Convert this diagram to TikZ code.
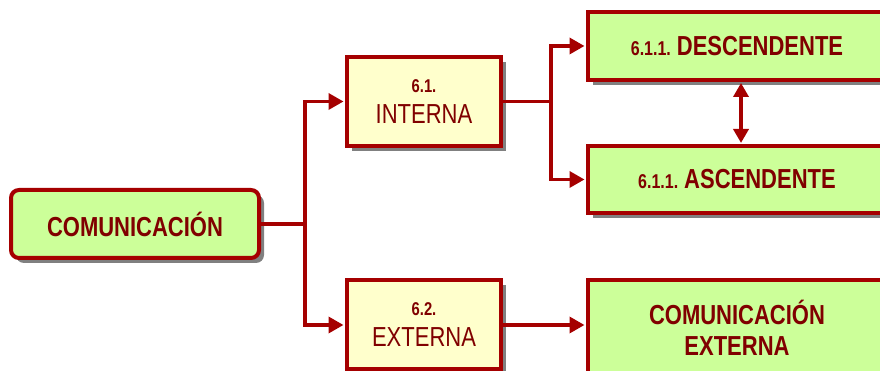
\documentclass[tikz,border=0pt]{standalone}
\usepackage{fontspec}
\setmainfont{Liberation Sans}[FakeStretch=0.8]
\usepackage{xcolor}
\usepackage{tikz}
\usetikzlibrary{arrows.meta,shadows}

\definecolor{boxred}{RGB}{165,0,0}
\definecolor{textred}{RGB}{128,0,0}
\definecolor{boxgreen}{HTML}{CCFF99}
\definecolor{boxyellow}{HTML}{FFFFCC}

\tikzset{
  box/.style={draw=boxred, line width=4pt, text=textred, align=center, inner sep=0pt,
    drop shadow={shadow xshift=5pt, shadow yshift=-5pt, fill=gray, opacity=1}},
  greenbox/.style={box, fill=boxgreen, font=\bfseries\fontsize{27.5}{31}\selectfont},
  yellowbox/.style={box, fill=boxyellow, font=\fontsize{27.5}{31}\selectfont,
    minimum width=154pt, minimum height=89pt},
  link/.style={line width=3.5pt, boxred, shorten >=1.5pt, -{Triangle[length=15pt,width=16pt]}},
  dlink/.style={line width=3.5pt, boxred, shorten >=1pt, shorten <=1pt,
    {Triangle[length=14pt,width=15pt]}-{Triangle[length=14pt,width=15pt]}},
}
\newcommand{\numsmall}[1]{{\bfseries\fontsize{18.5}{20}\selectfont #1}}
\newcommand{\numlevel}[1]{{\fontsize{20}{20}\selectfont #1}\hspace{6pt}}

\begin{document}
\begin{tikzpicture}[x=1pt,y=1pt]
  \useasboundingbox (0,0) rectangle (880,371);

  \node[greenbox, rounded corners=8pt, minimum width=248pt, minimum height=68pt] (com) at (135,147) {COMUNICACIÓN};

  \node[yellowbox] (int) at (424,269.5) {\numsmall{6.1.}\\INTERNA};
  \node[yellowbox] (ext) at (424,46) {\numsmall{6.2.}\\EXTERNA};

  \node[greenbox, anchor=west, minimum width=298pt, minimum height=68pt] (desc) at (586,325)
    {\numlevel{6.1.1.}DESCENDENTE};
  \node[greenbox, anchor=west, minimum width=298pt, minimum height=67pt] (asc) at (586,191.5)
    {\numlevel{6.1.1.}ASCENDENTE};
  \node[greenbox, anchor=west, minimum width=298pt, minimum height=96pt] (comext) at (586,43)
    {COMUNICACIÓN\\EXTERNA};

  \draw[link] (com.east) -- ++(44,0) |- (int.west);
  \draw[link] (com.east) -- ++(44,0) |- (ext.west);
  \draw[link] (int.east) -- ++(48,0) |- (desc.west);
  \draw[link] (int.east) -- ++(48,0) |- (asc.west);
  \draw[dlink] ([xshift=4pt]desc.south) -- ([xshift=4pt]asc.north);
  \draw[link] (ext.east) -- (ext.east -| comext.west);

\end{tikzpicture}
\end{document}
